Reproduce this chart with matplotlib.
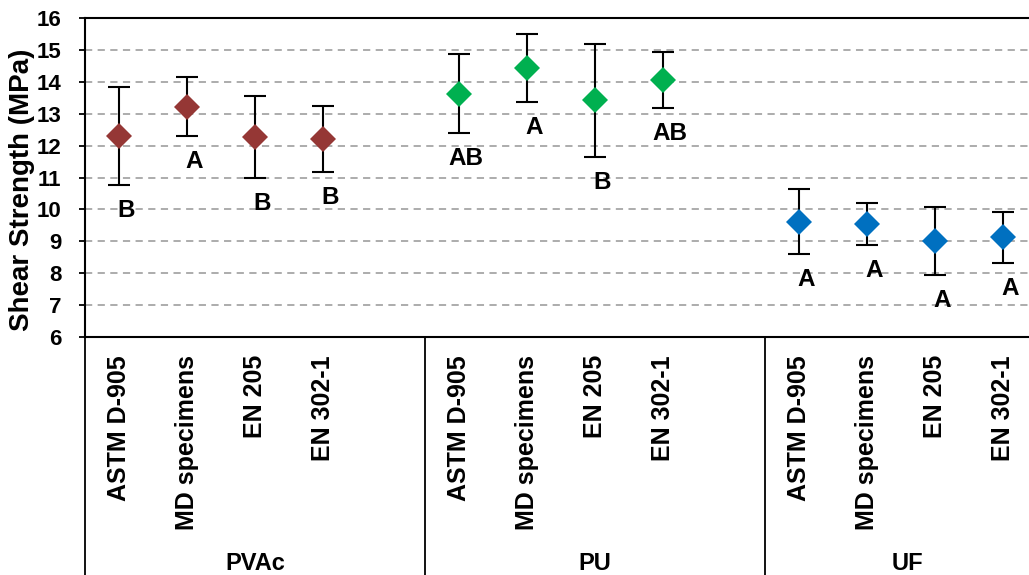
import matplotlib.pyplot as plt
from matplotlib import font_manager
import numpy as np

# pick a family that really has a bold face (Arial-like first)
family = 'DejaVu Sans'
for fam in ['Liberation Sans', 'Arimo', 'Roboto', 'Noto Sans']:
    path = font_manager.findfont(
        font_manager.FontProperties(family=fam, weight='bold'),
        fallback_to_default=False)
    if 'bold' in path.lower():
        family = fam
        break
plt.rcParams['font.family'] = [family, 'DejaVu Sans']
plt.rcParams['font.weight'] = 'bold'

groups = ['PVAc', 'PU', 'UF']
methods = ['ASTM D-905', 'MD specimens', 'EN 205', 'EN 302-1']
colors = ['#953735', '#00B050', '#0070C0']

# mean shear strength (MPa) and standard deviation per group
means = [[12.31, 13.22, 12.26, 12.21],
         [13.63, 14.43, 13.42, 14.05],
         [9.62, 9.54, 9.01, 9.13]]
sds = [[1.53, 0.92, 1.29, 1.03],
       [1.23, 1.06, 1.77, 0.88],
       [1.03, 0.67, 1.07, 0.80]]
letters = [['B', 'A', 'B', 'B'],
           ['AB', 'A', 'B', 'AB'],
           ['A', 'A', 'A', 'A']]

W, H = 1029, 575
fig = plt.figure(figsize=(W / 100, H / 100), dpi=100)
# axis runs past the right edge of the picture, as in the original crop
ax = fig.add_axes([85 / W, 1 - 337 / H, 952 / W, 319 / H])

for g in range(3):
    x = np.arange(4) + g * 5
    m = np.array(means[g])
    s = np.array(sds[g])
    ax.errorbar(x, m, yerr=s, fmt='none', ecolor='black', elinewidth=1.5,
                capsize=8, capthick=1.5, zorder=3)
    ax.plot(x, m, 'D', color=colors[g], markersize=13.5, markeredgewidth=0,
            zorder=4)
    for xi, mi, si, lt in zip(x, m, s, letters[g]):
        ax.text(xi + 0.1, mi - si - 0.8, lt, ha='center', va='center',
                fontsize=17.5, fontweight='bold')

ax.set_xlim(-0.5, 13.5)
ax.set_ylim(6, 16)
ax.set_yticks(range(6, 17))
ax.yaxis.grid(True, color='#A6A6A6', linestyle=(0, (4, 3)), linewidth=1.3)
ax.set_axisbelow(True)
ax.tick_params(axis='y', direction='out', length=4, width=1.3,
               labelsize=16, pad=13)
for lab in ax.get_yticklabels():
    lab.set_fontweight('bold')
ax.set_ylabel('Shear Strength (MPa)', fontsize=20, fontweight='bold')
ax.yaxis.set_label_coords(-0.053, 0.46)

ax.set_xticks([])
for side in ['left', 'bottom', 'top', 'right']:
    ax.spines[side].set_linewidth(1.5)
    ax.spines[side].set_color('black')

# category labels and group separators below the axis
tr = ax.get_xaxis_transform()
for g in range(3):
    for j, name in enumerate(methods):
        ax.text(g * 5 + j, -18 / 319, name, transform=tr, rotation=90,
                ha='center', va='top', fontsize=18, fontweight='bold',
                clip_on=False)
    center = g * 5 + 2 if g < 2 else 11.6
    ax.text(center, -(563 - 337) / 319, groups[g], transform=tr,
            ha='center', va='center', fontsize=17, fontweight='bold',
            clip_on=False)
for xs in [-0.5, 4.5, 9.5]:
    ax.plot([xs, xs], [0, -(575 - 337) / 319], transform=tr, color='black',
            linewidth=1.3, clip_on=False)

fig.savefig('out.png', dpi=100)
